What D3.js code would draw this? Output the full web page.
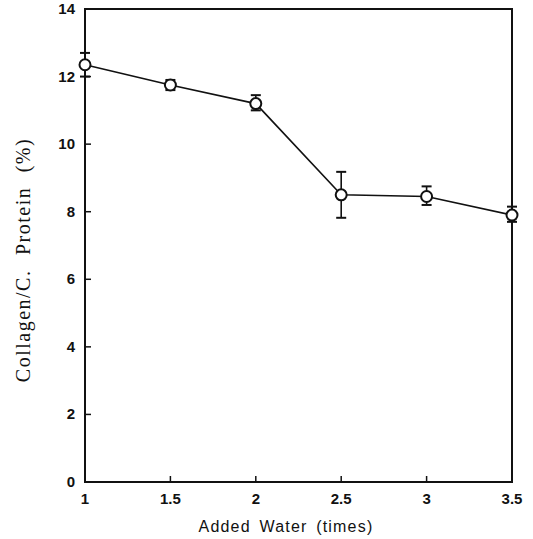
<!DOCTYPE html>
<html>
<head>
<meta charset="utf-8">
<script src="https://cdn.jsdelivr.net/npm/d3@7"></script>
<style>
  body { margin: 0; background: #fff; }
  .tick-lbl { font-family: "Liberation Sans", Arial, sans-serif; font-weight: bold; font-size: 15px; fill: #111; }
</style>
</head>
<body>
<div id="chart"></div>
<script>
// added water (times)
var water = [1, 1.5, 2, 2.5, 3, 3.5];
// collagen / C. protein (%)
var collagen = [12.35, 11.75, 11.2, 8.5, 8.45, 7.9];
var errUp = [0.35, 0.15, 0.25, 0.68, 0.3, 0.25];
var errDown = [0.35, 0.15, 0.2, 0.68, 0.25, 0.2];
var xTicks = [1, 1.5, 2, 2.5, 3, 3.5];
var xTickLabels = ["1", "1.5", "2", "2.5", "3", "3.5"];
var yTicks = [0, 2, 4, 6, 8, 10, 12, 14];

var W = 533, H = 539;
var margin = {top: 9, left: 85, right: 21, bottom: 57};
var width = W - margin.left - margin.right;
var height = H - margin.top - margin.bottom;

var svg = d3.select("#chart").append("svg")
  .attr("width", W)
  .attr("height", H);

var g = svg.append("g")
  .attr("transform", "translate(" + margin.left + "," + margin.top + ")");

var x = d3.scaleLinear().domain([1, 3.5]).range([0, width]);
var y = d3.scaleLinear().domain([0, 14]).range([height, 0]);

var data = water.map(function(d, i) {
  return {x: d, y: collagen[i], up: errUp[i], down: errDown[i]};
});

// frame
g.append("rect")
  .attr("x", 0).attr("y", 0)
  .attr("width", width).attr("height", height)
  .attr("fill", "none")
  .attr("stroke", "#111")
  .attr("stroke-width", 2);

// y ticks (inward)
g.selectAll(".ytick").data(yTicks.slice(1, -1))
  .enter().append("line")
  .attr("class", "ytick")
  .attr("x1", 0).attr("x2", 6)
  .attr("y1", function(d) { return y(d); })
  .attr("y2", function(d) { return y(d); })
  .attr("stroke", "#111").attr("stroke-width", 1.5);

g.selectAll(".ylbl").data(yTicks)
  .enter().append("text")
  .attr("class", "tick-lbl")
  .attr("x", -10)
  .attr("y", function(d) { return y(d) + 5; })
  .attr("text-anchor", "end")
  .text(function(d) { return d; });

// x ticks (inward)
g.selectAll(".xtick").data(xTicks.slice(1, -1))
  .enter().append("line")
  .attr("class", "xtick")
  .attr("x1", function(d) { return x(d); })
  .attr("x2", function(d) { return x(d); })
  .attr("y1", height).attr("y2", height - 6)
  .attr("stroke", "#111").attr("stroke-width", 1.5);

g.selectAll(".xlbl").data(xTicks)
  .enter().append("text")
  .attr("class", "tick-lbl")
  .attr("x", function(d) { return x(d); })
  .attr("y", height + 22)
  .attr("text-anchor", "middle")
  .text(function(d, i) { return xTickLabels[i]; });

// line
g.append("path")
  .datum(data)
  .attr("fill", "none")
  .attr("stroke", "#111")
  .attr("stroke-width", 1.6)
  .attr("d", d3.line()
    .x(function(d) { return x(d.x); })
    .y(function(d) { return y(d.y); }));

// error bars
var eb = g.selectAll(".err").data(data).enter().append("g").attr("class", "err");
eb.append("line")
  .attr("x1", function(d) { return x(d.x); })
  .attr("x2", function(d) { return x(d.x); })
  .attr("y1", function(d) { return y(d.y + d.up); })
  .attr("y2", function(d) { return y(d.y - d.down); })
  .attr("stroke", "#111").attr("stroke-width", 1.6);
eb.append("line")
  .attr("x1", function(d) { return x(d.x) - 5; })
  .attr("x2", function(d) { return x(d.x) + 5; })
  .attr("y1", function(d) { return y(d.y + d.up); })
  .attr("y2", function(d) { return y(d.y + d.up); })
  .attr("stroke", "#111").attr("stroke-width", 2);
eb.append("line")
  .attr("x1", function(d) { return x(d.x) - 5; })
  .attr("x2", function(d) { return x(d.x) + 5; })
  .attr("y1", function(d) { return y(d.y - d.down); })
  .attr("y2", function(d) { return y(d.y - d.down); })
  .attr("stroke", "#111").attr("stroke-width", 2);

// open circles
g.selectAll(".pt").data(data)
  .enter().append("circle")
  .attr("class", "pt")
  .attr("cx", function(d) { return x(d.x); })
  .attr("cy", function(d) { return y(d.y); })
  .attr("r", 5.5)
  .attr("fill", "#fff")
  .attr("stroke", "#111")
  .attr("stroke-width", 2);

// axis titles
svg.append("text")
  .attr("x", 286)
  .attr("y", 532)
  .attr("text-anchor", "middle")
  .style("font-family", "'Liberation Sans', Arial, sans-serif")
  .style("font-size", "16px")
  .style("letter-spacing", "1.2px")
  .style("word-spacing", "3px")
  .style("fill", "#111")
  .text("Added Water (times)");

svg.append("text")
  .attr("transform", "translate(30,260) rotate(-90)")
  .attr("text-anchor", "middle")
  .style("font-family", "'Liberation Serif', 'Times New Roman', serif")
  .style("font-size", "20px")
  .style("letter-spacing", "1.5px")
  .style("word-spacing", "8px")
  .style("fill", "#111")
  .text("Collagen/C. Protein (%)");
</script>
</body>
</html>
